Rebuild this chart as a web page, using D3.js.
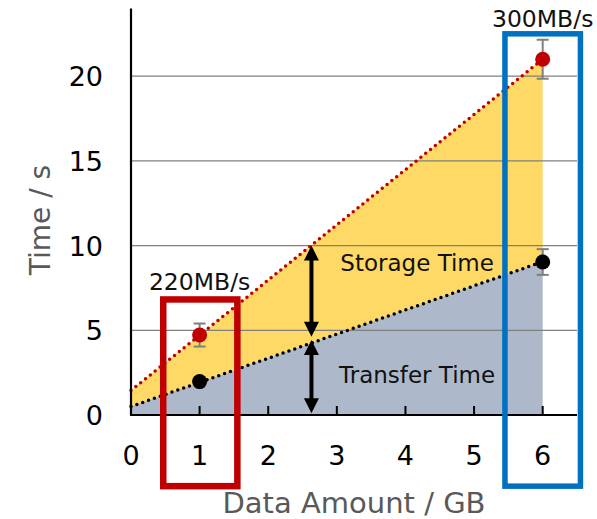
<!DOCTYPE html>
<html>
<head>
<meta charset="utf-8">
<script src="https://cdn.jsdelivr.net/npm/d3@7"></script>
<style>
  html, body { margin: 0; padding: 0; background: #fff; }
  svg { display: block; }
  text { font-family: "DejaVu Sans", Verdana, sans-serif; }
</style>
</head>
<body>
<div id="chart"></div>
<script>
// measured points (GB -> s) with error bars
const xPoints = [1, 6];
const totalTime = [4.72, 21.0];
const totalErr = [0.68, 1.15];
const transferTime = [1.97, 9.03];
const transferErr = [0.1, 0.76];
// fitted lines (endpoints)
const totalFit = [[0, 1.45], [6, 21.0]];
const transferFit = [[0, 0.5], [6, 9.05]];
// ticks
const xTicks = [0, 1, 2, 3, 4, 5, 6];
const yTicks = [0, 5, 10, 15, 20];
// annotations
const rateLabels = [{ x: 1, y: 7.35, text: "220MB/s" }, { x: 6, y: 22.9, text: "300MB/s" }];
const regionLabels = [{ x: 4.17, y: 8.5, text: "Storage Time" }, { x: 4.17, y: 1.86, text: "Transfer Time" }];
const arrows = [{ x: 2.63, y0: 10.0, y1: 4.62 }, { x: 2.63, y0: 4.43, y1: 0.1 }];
const boxes = [
  { x0: 0.47, x1: 1.55, y0: 6.82, y1: -4.2, color: "#C00000", w: 6.5 },
  { x0: 5.45, x1: 6.55, y0: 22.5, y1: -4.2, color: "#0070C0", w: 5.5 }
];

const W = 597, H = 519;
const x = d3.scaleLinear().domain([0, 6.5]).range([131, 577]);
const y = d3.scaleLinear().domain([0, 24]).range([415, 8.4]);

const svg = d3.select("#chart").append("svg").attr("width", W).attr("height", H);

const fitAt = (fit, v) => fit[0][1] + (fit[1][1] - fit[0][1]) * (v - fit[0][0]) / (fit[1][0] - fit[0][0]);

// fills
const xs = [0, 6];
svg.append("path")
  .attr("d", d3.area().x(d => x(d)).y0(d => y(fitAt(transferFit, d))).y1(d => y(fitAt(totalFit, d)))(xs))
  .attr("fill", "#FFD966");
svg.append("path")
  .attr("d", d3.area().x(d => x(d)).y0(y(0)).y1(d => y(fitAt(transferFit, d)))(xs))
  .attr("fill", "#ADB9CA");

// gridlines
yTicks.filter(v => v > 0).forEach(v => {
  svg.append("line").attr("x1", x(0)).attr("x2", x(6.5)).attr("y1", y(v)).attr("y2", y(v))
    .attr("stroke", "#7f7f7f").attr("stroke-width", 1.3);
});

// dotted fit lines
const line = d3.line().x(d => x(d[0])).y(d => y(d[1]));
[[totalFit, "#C00000"], [transferFit, "#000"]].forEach(([f, c]) => {
  svg.append("path").attr("d", line(f)).attr("fill", "none")
    .attr("stroke", c).attr("stroke-width", 3.5)
    .attr("stroke-linecap", "round").attr("stroke-dasharray", "0 6.2");
});

// error bars + points
function errBars(vals, errs) {
  xPoints.forEach((xv, i) => {
    const cx = x(xv), top = y(vals[i] + errs[i]), bot = y(vals[i] - errs[i]);
    svg.append("line").attr("x1", cx).attr("x2", cx).attr("y1", top).attr("y2", bot)
      .attr("stroke", "#7f7f7f").attr("stroke-width", 2);
    [top, bot].forEach(yy => svg.append("line").attr("x1", cx - 6).attr("x2", cx + 6)
      .attr("y1", yy).attr("y2", yy).attr("stroke", "#7f7f7f").attr("stroke-width", 2));
  });
}
errBars(totalTime, totalErr);
errBars(transferTime, transferErr);
xPoints.forEach((xv, i) => {
  svg.append("circle").attr("cx", x(xv)).attr("cy", y(totalTime[i])).attr("r", 7.5).attr("fill", "#C00000");
  svg.append("circle").attr("cx", x(xv)).attr("cy", y(transferTime[i])).attr("r", 7.5).attr("fill", "#000");
});

// double arrows
arrows.forEach(a => {
  const ax = x(a.x), t = y(a.y0), b = y(a.y1), hw = 7.5, hh = 15;
  svg.append("line").attr("x1", ax).attr("x2", ax).attr("y1", t + hh - 2).attr("y2", b - hh + 2)
    .attr("stroke", "#000").attr("stroke-width", 4);
  svg.append("path").attr("d", `M${ax},${t}L${ax - hw},${t + hh}L${ax + hw},${t + hh}Z`).attr("fill", "#000");
  svg.append("path").attr("d", `M${ax},${b}L${ax - hw},${b - hh}L${ax + hw},${b - hh}Z`).attr("fill", "#000");
});

// region labels
regionLabels.forEach(l => svg.append("text").attr("x", x(l.x)).attr("y", y(l.y))
  .attr("text-anchor", "middle").attr("font-size", 23).attr("fill", "#111").text(l.text));
rateLabels.forEach(l => svg.append("text").attr("x", x(l.x)).attr("y", y(l.y))
  .attr("text-anchor", "middle").attr("font-size", 23.5).attr("fill", "#111").text(l.text));

// axes
svg.append("line").attr("x1", x(0)).attr("x2", x(0)).attr("y1", y(24)).attr("y2", y(0))
  .attr("stroke", "#000").attr("stroke-width", 2.2);
svg.append("line").attr("x1", x(0) - 1).attr("x2", x(6.5)).attr("y1", y(0)).attr("y2", y(0))
  .attr("stroke", "#000").attr("stroke-width", 2.2);
xTicks.filter(v => v > 0).forEach(v => {
  svg.append("line").attr("x1", x(v)).attr("x2", x(v)).attr("y1", y(0)).attr("y2", y(0) - 9)
    .attr("stroke", "#000").attr("stroke-width", 2);
});
xTicks.forEach(v => svg.append("text").attr("x", x(v)).attr("y", 465)
  .attr("text-anchor", "middle").attr("font-size", 27).attr("fill", "#000").text(v));
yTicks.forEach(v => svg.append("text").attr("x", 103).attr("y", y(v) + 10)
  .attr("text-anchor", "end").attr("font-size", 27).attr("fill", "#000").text(v));

svg.append("text").attr("x", x(3.25)).attr("y", 513).attr("text-anchor", "middle")
  .attr("font-size", 29).attr("fill", "#595959").text("Data Amount / GB");
svg.append("text").attr("transform", `translate(50,220) rotate(-90)`).attr("text-anchor", "middle")
  .attr("font-size", 28).attr("fill", "#595959").text("Time / s");

// highlight boxes
boxes.forEach(b => svg.append("rect")
  .attr("x", x(b.x0)).attr("y", y(b.y0))
  .attr("width", x(b.x1) - x(b.x0)).attr("height", y(b.y1) - y(b.y0))
  .attr("fill", "none").attr("stroke", b.color).attr("stroke-width", b.w));
</script>
</body>
</html>
